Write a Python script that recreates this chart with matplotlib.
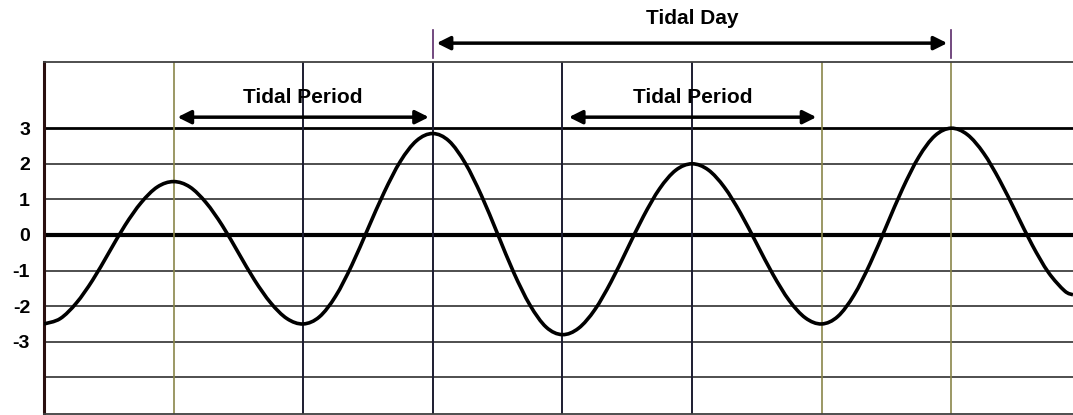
import matplotlib.pyplot as plt
from matplotlib.path import Path
from matplotlib.patches import PathPatch

# tide height, one sample every 1/8 of a tidal period step
hours = [i * 0.125 for i in range(64)] + [7.94]
height = [
    -2.5, -2.35, -1.91, -1.27, -0.5, 0.27, 0.91, 1.35,
    1.5, 1.35, 0.91, 0.27, -0.5, -1.27, -1.91, -2.35,
    -2.5, -2.30, -1.72, -0.85, 0.18, 1.20, 2.07, 2.65,
    2.85, 2.64, 2.02, 1.11, 0.03, -1.06, -1.97, -2.59,
    -2.8, -2.62, -2.10, -1.32, -0.4, 0.52, 1.30, 1.82,
    2.0, 1.83, 1.34, 0.61, -0.25, -1.11, -1.84, -2.33,
    -2.5, -2.29, -1.69, -0.80, 0.25, 1.30, 2.19, 2.79,
    3.0, 2.82, 2.30, 1.53, 0.63, -0.28, -1.05, -1.57,
    -1.68,
]

tick_levels = [3, 2, 1, 0, -1, -2, -3]
thin_levels = [2, 1, -1, -2, -3, -4]
bold_levels = [3, 0]
light_verticals = [1, 6, 7]
dark_verticals = [2, 3, 4, 5]

period_spans = [(1.03, 2.97), (4.05, 5.96)]
day_span = (3.03, 6.97)


def smooth_path(xs, ys):
    # catmull-rom through the samples, drawn as cubic bezier pieces
    pts = list(zip(xs, ys))
    verts = [pts[0]]
    codes = [Path.MOVETO]
    for i in range(len(pts) - 1):
        p0 = pts[max(i - 1, 0)]
        p1 = pts[i]
        p2 = pts[i + 1]
        p3 = pts[min(i + 2, len(pts) - 1)]
        c1 = (p1[0] + (p2[0] - p0[0]) / 6, p1[1] + (p2[1] - p0[1]) / 6)
        c2 = (p2[0] - (p3[0] - p1[0]) / 6, p2[1] - (p3[1] - p1[1]) / 6)
        verts += [c1, c2, p2]
        codes += [Path.CURVE4] * 3
    return Path(verts, codes)


fig = plt.figure(figsize=(10.73, 4.15), dpi=100)
ax = fig.add_axes([44 / 1073, 1 / 415, 1 - 44 / 1073, 352 / 415])
ax.set_xlim(0, 7.94)
ax.set_ylim(-5.03, 4.86)

for lv in thin_levels:
    ax.axhline(lv, color="#404040", lw=1.3, zorder=1)
ax.axhline(bold_levels[0], color="black", lw=2.0, zorder=1)
ax.axhline(bold_levels[1], color="black", lw=3.0, zorder=1)

for xv in light_verticals:
    ax.axvline(xv, color="#8a864a", lw=1.2, zorder=1)
for xv in dark_verticals:
    ax.axvline(xv, color="#1c1c30", lw=1.4, zorder=1)

ax.add_patch(PathPatch(smooth_path(hours, height), facecolor="none",
                       edgecolor="black", lw=2.6, zorder=3))

ax.set_xticks([])
ax.set_yticks(tick_levels)
ax.set_yticklabels([str(v) for v in tick_levels], fontsize=14,
                   fontweight="bold", family="Liberation Sans")
ax.tick_params(axis="y", length=0, pad=10)

ax.spines["right"].set_visible(False)
ax.spines["left"].set_linewidth(2.2)
ax.spines["left"].set_color("#2a1010")
ax.spines["top"].set_color("#404040")
ax.spines["top"].set_linewidth(1.3)
ax.spines["bottom"].set_color("#404040")
ax.spines["bottom"].set_linewidth(1.3)

arrow = dict(arrowstyle="<|-|>", lw=2.5, color="black", mutation_scale=20,
             shrinkA=0, shrinkB=0)

for x0, x1 in period_spans:
    ax.annotate("", xy=(x0, 3.31), xytext=(x1, 3.31), arrowprops=arrow,
                annotation_clip=False)
    ax.text((x0 + x1) / 2, 3.85, "Tidal Period", ha="center", va="center",
            fontsize=15, fontweight="bold", family="Liberation Sans")

ax.annotate("", xy=(day_span[0], 5.39), xytext=(day_span[1], 5.39),
            arrowprops=arrow, annotation_clip=False)
ax.text(sum(day_span) / 2, 6.08, "Tidal Day", ha="center", va="center",
        fontsize=15, fontweight="bold", family="Liberation Sans", clip_on=False)
for xv in [3, 7]:
    ax.plot([xv, xv], [4.97, 5.76], color="#5a2a6a", lw=1.2, clip_on=False)

fig.savefig("out.png", dpi=100)
